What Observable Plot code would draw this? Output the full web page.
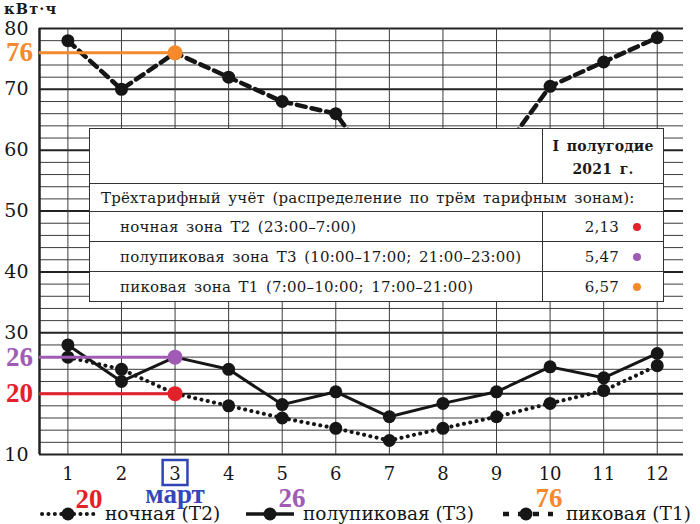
<!DOCTYPE html>
<html><head><meta charset="utf-8">
<script src="https://cdn.jsdelivr.net/npm/d3@7"></script>
<script src="https://cdn.jsdelivr.net/npm/@observablehq/plot@0.6"></script>
<style>
body{margin:0;background:#fff;}
#wrap{position:relative;width:700px;height:524px;overflow:hidden;font-family:"DejaVu Serif",serif;color:#1a1a1a;}
#chart{position:absolute;left:0;top:0;}
#unit{position:absolute;left:4px;top:2px;font-size:14.5px;line-height:14px;font-weight:bold;letter-spacing:1.2px;}
#tbl{position:absolute;left:89px;top:128px;width:575px;border-collapse:collapse;background:#fff;border:1.5px solid #222;font-size:15px;letter-spacing:0.2px;word-spacing:2.5px;}
#tbl td{border:1px solid #333;padding:0;white-space:nowrap;}
#tbl td.h{text-align:center;font-weight:bold;line-height:23px;font-size:14px;padding-top:6px;vertical-align:top;}
#tbl td.sec{padding-left:11px;}
#tbl td.zone{padding-left:30px;}
#tbl td.val{text-align:right;padding-right:44px;position:relative;}
.dot{position:absolute;right:22px;top:11px;width:8px;height:8px;border-radius:50%;}
#legend{position:absolute;left:0;top:480px;}
.num{position:absolute;font-family:"Liberation Serif",serif;font-weight:bold;font-size:27px;line-height:27px;transform:translate(-50%,-50%);}
</style></head><body><div id="wrap"><div id="chart"></div></div>
<script>
// ---- data ----
const months = [1,2,3,4,5,6,7,8,9,10,11,12];
const peakT1  = [78,70,76,72,68,66,54,55,58.5,70.5,74.5,78.5];
const semiT3  = [28,22,26,24,18.2,20.3,16.2,18.4,20.3,24.4,22.6,26.6];
const nightT2 = [26,24,20,18,16,14.3,12.3,14.3,16.2,18.4,20.5,24.6];
const yTickLabels = [10,30,40,50,60,70,80];
const seriesNames = ["ночная (Т2)","полупиковая (Т3)","пиковая (Т1)"];
const seriesColors = ["#e2212b","#a05cb4","#f58a2c"];
const marchValues = [20,26,76];
const highlightMonth = 3;
const highlightName = "март";
const unitLabel = "кВт·ч";
const tableHeader = ["I полугодие","2021 г."];
const tableSection = "Трёхтарифный учёт (распределение по трём тарифным зонам):";
const tariffRows = ["ночная зона Т2 (23:00–7:00)","полупиковая зона Т3 (10:00–17:00; 21:00–23:00)","пиковая зона Т1 (7:00–10:00; 17:00–21:00)"];
const tariffPrices = ["2,13","5,47","6,57"];

// ---- build ----
const x0 = 0.47, x1 = 12.49;
const toRows = vals => months.map((m,i)=>({month:m, value:vals[i]}));
const t1 = toRows(peakT1), t3 = toRows(semiT3), t2 = toRows(nightT2);
const ann = marchValues.map((v,i)=>({month:highlightMonth, value:v, color:seriesColors[i]}));
const minorY = d3.range(10,81,2).filter(v=>v%10!==0);
const majorY = d3.range(10,81,10);
const ink = "#161616";

const plot = Plot.plot({
  width:700, height:524, marginLeft:39, marginRight:17, marginTop:28, marginBottom:70,
  x:{domain:[x0,x1], label:null},
  y:{domain:[10,80], label:null},
  color:{type:"identity"},
  style:{fontFamily:"DejaVu Serif", background:"transparent", color:ink},
  marks:[
    Plot.ruleY(minorY,{stroke:"#3c3c3c",strokeWidth:1}),
    Plot.ruleY(majorY,{stroke:"#222",strokeWidth:2}),
    Plot.ruleX(months,{stroke:"#3c3c3c",strokeWidth:1}),
    Plot.ruleX([x0],{stroke:"#222",strokeWidth:2.5}),
    Plot.line(t1,{x:"month",y:"value",stroke:ink,strokeWidth:4.5,strokeDasharray:"9,6"}),
    Plot.line(t3,{x:"month",y:"value",stroke:ink,strokeWidth:3}),
    Plot.line(t2,{x:"month",y:"value",stroke:ink,strokeWidth:4,strokeDasharray:"0.1,6.3",strokeLinecap:"round"}),
    Plot.dot([...t1,...t3,...t2],{x:"month",y:"value",r:6.5,fill:ink,stroke:null}),
    Plot.ruleY(ann,{y:"value",x1:()=>x0,x2:"month",stroke:"color",strokeWidth:3}),
    Plot.dot(ann,{x:"month",y:"value",r:7.5,fill:"color",stroke:null}),
    Plot.text(ann,{x:()=>x0,y:"value",text:d=>String(d.value),dx:-20,textAnchor:"middle",fill:"color",fontSize:27,fontWeight:"bold",fontFamily:"Liberation Serif"}),
    Plot.axisX({ticks:months,tickSize:0,tickPadding:13,fontSize:18,label:null}),
    Plot.axisY({ticks:yTickLabels,tickSize:0,tickPadding:11,fontSize:19,label:null}),
    Plot.dot([highlightMonth],{x:d=>d,y:()=>10,dy:18,symbol:"square",r:14,stroke:"#2f45b5",strokeWidth:2.5,fill:"none"}),
    Plot.text([highlightMonth],{x:d=>d,y:()=>10,dy:40,text:()=>highlightName,fill:"#3547b8",fontSize:27,fontWeight:"bold",fontFamily:"Liberation Serif"})
  ]
});
const wrap = document.getElementById("wrap");
document.getElementById("chart").appendChild(plot);

const unit = document.createElement("div");
unit.id="unit"; unit.textContent=unitLabel; wrap.appendChild(unit);

// table overlay
const tbl = document.createElement("table"); tbl.id="tbl";
let html = `<tr style="height:55px"><td style="width:452px"></td><td class="h">${tableHeader[0]}<br>${tableHeader[1]}</td></tr>`;
html += `<tr style="height:28px"><td class="sec" colspan="2">${tableSection}</td></tr>`;
tariffRows.forEach((r,i)=>{
  html += `<tr style="height:30px"><td class="zone">${r}</td><td class="val">${tariffPrices[i]}<span class="dot" style="background:${seriesColors[i]}"></span></td></tr>`;
});
tbl.innerHTML = html; wrap.appendChild(tbl);

// legend overlay
const lg = [
  {sx:42, ex:96, dot:68, tx:105, dash:"0.1,6.3", cap:"round", w:4, numX:89, numY:499},
  {sx:246, ex:294, dot:270, tx:303, dash:null, cap:"butt", w:3.5, numX:292, numY:498},
  {sx:503, ex:553, dot:526, tx:566, dash:"6,9", cap:"butt", w:4.5, numX:549, numY:498}
];
const svgNS="http://www.w3.org/2000/svg";
const lsvg = document.createElementNS(svgNS,"svg");
lsvg.setAttribute("width",700); lsvg.setAttribute("height",44); lsvg.id="legend";
lg.forEach((l,i)=>{
  const ln=document.createElementNS(svgNS,"line");
  ln.setAttribute("x1",l.sx);ln.setAttribute("x2",l.ex);ln.setAttribute("y1",34);ln.setAttribute("y2",34);
  ln.setAttribute("stroke",ink);ln.setAttribute("stroke-width",l.w);ln.setAttribute("stroke-linecap",l.cap);
  if(l.dash) ln.setAttribute("stroke-dasharray",l.dash);
  lsvg.appendChild(ln);
  const c=document.createElementNS(svgNS,"circle");
  c.setAttribute("cx",l.dot);c.setAttribute("cy",34);c.setAttribute("r",6.5);c.setAttribute("fill",ink);
  lsvg.appendChild(c);
  const t=document.createElementNS(svgNS,"text");
  t.setAttribute("x",l.tx);t.setAttribute("y",40);t.setAttribute("font-size",18.5);t.setAttribute("font-family","DejaVu Serif");t.setAttribute("fill",ink);
  t.textContent=seriesNames[i]; lsvg.appendChild(t);
});
wrap.appendChild(lsvg);
lg.forEach((l,i)=>{
  const n=document.createElement("div"); n.className="num";
  n.style.left=l.numX+"px"; n.style.top=l.numY+"px"; n.style.color=seriesColors[i];
  n.textContent=String(marchValues[i]); wrap.appendChild(n);
});
</script></body></html>
